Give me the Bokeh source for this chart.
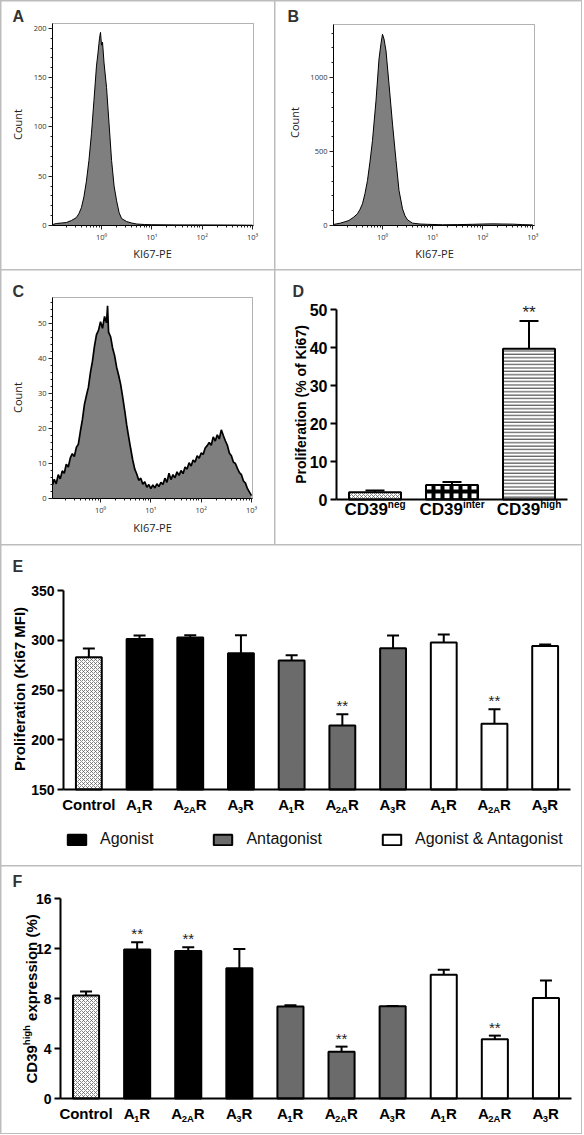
import math
from bokeh.plotting import figure
from bokeh.layouts import row, column
from bokeh.models import (Range1d, ColumnDataSource, LabelSet, Label, Whisker, TeeHead, Legend,
                          LegendItem, SingleIntervalTicker, LogTicker, FixedTicker, BoxAnnotation,
                          CustomJSTickFormatter)
from bokeh.core.properties import value
from bokeh.embed import file_html
from bokeh.resources import INLINE

# ---------------- DATA ----------------
hist_xlabel = "KI67-PE"
hist_ylabel = "Count"

# Panel A histogram: log10(KI67-PE) positions and counts
a_log = [-0.97, -0.9, -0.8, -0.7, -0.6, -0.5, -0.45, -0.4, -0.35, -0.3, -0.25, -0.2, -0.15, -0.1,
         -0.07, -0.04, -0.02, 0.0, 0.02, 0.05, 0.1, 0.15, 0.2, 0.25, 0.3, 0.35, 0.4, 0.5, 0.6, 0.7,
         0.85, 1.0, 1.5, 2.0, 2.5, 3.0]
a_count = [1, 2, 2.5, 3, 5, 8, 12, 18, 29, 45, 66, 93, 127, 162, 175, 190, 196, 183, 186, 165,
           140, 103, 66, 40, 25, 13, 7, 4, 2.5, 1.5, 1, 0.8, 0.6, 0.6, 0.5, 0.3]

# Panel B histogram
b_log = [-0.98, -0.85, -0.75, -0.67, -0.58, -0.5, -0.45, -0.4, -0.35, -0.3, -0.25, -0.2, -0.13,
         -0.07, -0.03, 0.0, 0.03, 0.07, 0.13, 0.2, 0.27, 0.33, 0.4, 0.45, 0.5, 0.6, 0.75, 0.9, 1.2,
         1.5, 1.8, 2.0, 2.2, 2.4, 2.6, 2.8, 3.0]
b_count = [7, 15, 25, 34, 55, 79, 108, 146, 215, 303, 430, 573, 843, 1124, 1230, 1292, 1260, 1180,
           955, 685, 438, 236, 112, 65, 38, 16, 10, 8, 5, 6, 8, 10, 11, 10, 9, 6, 4]

# Panel C histogram (bimodal)
c_log = [-0.95, -0.92, -0.88, -0.84, -0.8, -0.76, -0.72, -0.68, -0.64, -0.6, -0.56, -0.52, -0.48,
         -0.44, -0.4, -0.36, -0.32, -0.28, -0.24, -0.2, -0.16, -0.12, -0.08, -0.04, 0.0, 0.04, 0.08,
         0.12, 0.14, 0.16, 0.2, 0.24, 0.28, 0.32, 0.36, 0.4, 0.44, 0.48, 0.52, 0.56, 0.6, 0.64, 0.68,
         0.72, 0.76, 0.8, 0.84, 0.88, 0.92, 0.96, 1.0, 1.04, 1.08, 1.12, 1.16, 1.2, 1.24, 1.28, 1.32,
         1.36, 1.4, 1.44, 1.48, 1.52, 1.56, 1.6, 1.64, 1.68, 1.72, 1.76, 1.8, 1.84, 1.88, 1.92, 1.96,
         2.0, 2.04, 2.08, 2.12, 2.16, 2.2, 2.24, 2.28, 2.32, 2.36, 2.4, 2.44, 2.48, 2.52, 2.56, 2.6,
         2.64, 2.68, 2.72, 2.76, 2.8, 2.84, 2.88, 2.92, 2.96, 3.0]
c_count = [4.0, 5.5, 4.2, 6.8, 5.6, 7.9, 7.2, 9.8, 9.0, 11.6,
           12.8, 12.0, 14.6, 15.5, 19.2, 22.5, 26.8, 29.4, 31.8, 36.0,
           39.2, 43.5, 46.8, 48.0, 50.5, 48.6, 52.0, 50.2, 55.0, 47.5,
           46.2, 43.0, 40.8, 37.5, 35.2, 32.6, 29.0, 25.2, 21.0, 17.5,
           14.2, 11.0, 8.4, 7.0, 5.2, 5.8, 4.1, 4.8, 3.2, 4.0,
           2.8, 3.9, 3.0, 4.2, 3.4, 4.6, 4.0, 5.8, 4.6, 7.2,
           5.4, 6.8, 5.9, 7.6, 6.6, 8.0, 7.1, 9.0, 8.4, 10.2,
           9.3, 11.0, 10.4, 12.2, 11.5, 13.0, 12.6, 14.4, 15.1, 16.0,
           15.2, 17.6, 16.4, 18.2, 17.0, 19.6, 18.0, 16.5, 15.2, 13.0,
           12.2, 10.4, 10.0, 8.6, 7.4, 6.8, 5.0, 4.4, 2.8, 1.8,
           0.8]

# Panel D
d_main = "CD39"
d_sup = ["neg", "inter", "high"]
d_mean = [1.9, 3.8, 39.7]
d_err = [0.5, 0.8, 7.3]
d_sig = ["", "", "**"]
d_ylabel = "Proliferation (% of Ki67)"

# Panels E / F
treatments = ["Agonist", "Antagonist", "Agonist & Antagonist"]
receptor_sub = ["1", "2A", "3"]
e_mean = [283, 301.3, 302.7, 287, 279.7, 214.3, 292, 297.7, 216, 294.3]
e_err = [8.7, 3.4, 2.3, 18, 5.3, 11.4, 12.7, 8, 14.7, 1.4]
e_sig = ["", "", "", "", "", "**", "", "", "**", ""]
e_ylabel = "Proliferation (Ki67 MFI)"

f_mean = [8.24, 11.93, 11.8, 10.43, 7.36, 3.75, 7.38, 9.9, 4.74, 8.05]
f_err = [0.32, 0.57, 0.3, 1.53, 0.1, 0.4, 0.03, 0.4, 0.29, 1.39]
f_sig = ["", "**", "**", "", "", "**", "", "", "**", ""]
f_ylabel_parts = ["CD39", "high", "expression (%)"]

# ---------------- STYLE / GEOMETRY ----------------
ARIAL = "Liberation Sans"
SANS = "Open Sans"
GRAY_BAR = "#6b6b6b"
HIST_FILL = "#7f7f7f"
DIV = "#bdbdbd"

W1, W2 = 273, 306
WF = W1 + 1 + W2
H1, H2, H3, H4 = 268, 274, 320, 267

AW = {"A": .722, "R": .722, "C": .722, "D": .722, "o": .611, "n": .611, "t": .333, "r": .389,
      "l": .278, "1": .556, "2": .556, "3": .556, "9": .556, "e": .556, "g": .611, "i": .278,
      "h": .611, " ": .278}


def tw(s, size):
    return sum(AW.get(c, 0.6) for c in s) * size


LOG_FMT = CustomJSTickFormatter(code="""
const e = Math.round(Math.log10(tick));
const s = {0: '\u2070', 1: '\u00b9', 2: '\u00b2', 3: '\u00b3'};
return '10' + (s[e] !== undefined ? s[e] : '');
""")


def add_letter(p, txt, px, py, H):
    p.add_layout(Label(x=px, y=H - py + 3, x_units="screen", y_units="screen", text=txt,
                       text_font=ARIAL, text_font_style="bold", text_font_size="16px",
                       text_color="#333333", text_baseline="top", text_align="left"))


def hist_panel(W, H, box, loglim, ymax, yint, logs, counts, lw, letter, lpos, cpos, kpos):
    bl, bt, br, bb = box
    lo, hi = loglim
    dp = (br - bl) / (hi - lo)
    ppu = (bb - bt) / ymax
    xr = Range1d(10 ** (lo - bl / dp), 10 ** (hi + (W - br) / dp))
    yr = Range1d(-(H - bb) / ppu, ymax + bt / ppu)
    p = figure(width=W, height=H, x_axis_type="log", x_range=xr, y_range=yr,
               output_backend="svg", toolbar_location=None, min_border=0)
    p.grid.visible = False
    p.outline_line_color = None
    xs = [10 ** v for v in logs]
    p.varea(x=xs, y1=[0] * len(xs), y2=counts, fill_color=HIST_FILL)
    p.line(x=xs, y=counts, line_color="black", line_width=lw)
    p.add_layout(BoxAnnotation(left=10 ** lo, right=10 ** hi, bottom=0, top=ymax,
                               fill_alpha=0, line_color="black", line_width=1))
    xa, ya = p.xaxis[0], p.yaxis[0]
    xa.ticker = LogTicker(num_minor_ticks=10)
    xa.formatter = LOG_FMT
    xa.fixed_location = 0
    xa.bounds = (10 ** lo, 10 ** hi)
    ya.ticker = SingleIntervalTicker(interval=yint, num_minor_ticks=5)
    ya.fixed_location = 10 ** lo
    ya.bounds = (0, ymax)
    for ax in (xa, ya):
        ax.axis_line_color = "black"
        ax.major_tick_out = 4
        ax.major_tick_in = 0
        ax.minor_tick_out = 2
        ax.minor_tick_in = 0
        ax.major_tick_line_color = "#222"
        ax.minor_tick_line_color = "#222"
        ax.major_label_text_font = SANS
        ax.major_label_text_font_size = "7.5px"
        ax.major_label_text_color = "#333"
        ax.major_label_standoff = 2
    p.add_layout(Label(x=cpos[0], y=H - cpos[1], x_units="screen", y_units="screen",
                       angle=math.pi / 2, text=hist_ylabel, text_align="center",
                       text_baseline="middle", text_font=SANS, text_font_size="11px",
                       text_color="#222222"))
    p.add_layout(Label(x=kpos[0], y=H - kpos[1], x_units="screen", y_units="screen",
                       text=hist_xlabel, text_align="center", text_baseline="middle",
                       text_font=SANS, text_font_size="11px", text_color="#222222"))
    add_letter(p, letter, lpos[0], lpos[1], H)
    return p


def bar_fig(W, H, n, ax_x, ax_x_end, y0, y1, y0_px, y1_px, yint, tick_size):
    ppc = (ax_x_end - ax_x) / n
    ppu = (y0_px - y1_px) / (y1 - y0)
    xr = Range1d(-0.5 - ax_x / ppc, -0.5 + (W - ax_x) / ppc)
    yr = Range1d(y0 - (H - y0_px) / ppu, y1 + y1_px / ppu)
    p = figure(width=W, height=H, x_range=xr, y_range=yr, output_backend="svg",
               toolbar_location=None, min_border=0)
    p.grid.visible = False
    p.outline_line_color = None
    xa = p.xaxis[0]
    xa.fixed_location = y0
    xa.bounds = (-0.5, n - 0.5)
    xa.ticker = FixedTicker(ticks=[])
    xa.axis_line_width = 2
    xa.axis_line_color = "black"
    xa.major_tick_line_color = None
    xa.minor_tick_line_color = None
    ya = p.yaxis[0]
    ya.fixed_location = -0.5
    ya.bounds = (y0, y1)
    ya.ticker = SingleIntervalTicker(interval=yint, num_minor_ticks=0)
    ya.axis_line_width = 2
    ya.axis_line_color = "black"
    ya.major_tick_line_width = 2
    ya.major_tick_out = 6
    ya.major_tick_in = 0
    ya.minor_tick_line_color = None
    ya.major_label_text_font = ARIAL
    ya.major_label_text_font_style = "bold"
    ya.major_label_text_font_size = tick_size
    ya.major_label_text_color = "black"
    ya.major_label_standoff = 3
    return p


def add_errors(p, xs, means, errs, cap):
    src = ColumnDataSource(dict(x=xs, mean=means, top=[m + e for m, e in zip(means, errs)]))
    p.add_layout(Whisker(source=src, base="x", lower="mean", upper="top", line_color="black",
                         line_width=2, lower_head=None,
                         upper_head=TeeHead(size=cap, line_color="black", line_width=2)))


def add_sig(p, xs, means, errs, sigs, size):
    idx = [i for i, s in enumerate(sigs) if s]
    src = ColumnDataSource(dict(x=[xs[i] for i in idx], y=[means[i] + errs[i] for i in idx],
                                t=[sigs[i] for i in idx]))
    p.add_layout(LabelSet(source=src, x="x", y="y", text="t", y_offset=3,
                          text_align="center", text_baseline="alphabetic",
                          text_font=value(ARIAL), text_font_size=size, text_color="#222222"))


# ---------------- PANELS A, B, C ----------------
pA = hist_panel(W1, H1, (51, 22, 252, 224), (-0.974, 3.02), 205, 50, a_log, a_count, 1.0,
                "A", (11, 9), (16, 123), (151, 252))
pB = hist_panel(W2, H1, (58, 23, 259, 224), (-0.978, 3.034), 1358, 500, b_log, b_count, 1.0,
                "B", (12, 9), (19, 121), (159, 252))
pC = hist_panel(W1, H2, (51, 27, 251, 228), (-0.954, 3.02), 57.4, 10, c_log, c_count, 1.7,
                "C", (11, 15), (16, 127), (151, 257))

# ---------------- PANEL D ----------------
d_x = list(range(len(d_sup)))
pD = bar_fig(W2, H2, 3, 61, 292, 0, 50, 229, 39, 10, "16px")
pD.vbar(x=[d_x[0]], top=[d_mean[0]], width=0.675, fill_color="white", line_color="black",
        line_width=2, hatch_pattern="diagonal_cross", hatch_scale=4, hatch_weight=0.7,
        hatch_color="#555555")
pD.vbar(x=[d_x[1]], top=[d_mean[1]], width=0.675, fill_color="white", line_color="black",
        line_width=2, hatch_pattern="cross", hatch_scale=9, hatch_weight=4, hatch_color="black")
pD.vbar(x=[d_x[2]], top=[d_mean[2]], width=0.675, fill_color="white", line_color="black",
        line_width=2, hatch_pattern="horizontal_line", hatch_scale=3.4, hatch_weight=1,
        hatch_color="#333333")
add_errors(pD, d_x, d_mean, d_err, 19)
add_sig(pD, d_x, d_mean, d_err, d_sig, "17px")
wm = tw(d_main, 17)
d_xo_main = [-(wm + tw(s, 10)) / 2 for s in d_sup]
d_src = ColumnDataSource(dict(x=d_x, y=[0] * 3, main=[d_main] * 3, sup=d_sup,
                              xm=d_xo_main, xs=[v + wm for v in d_xo_main]))
pD.add_layout(LabelSet(source=d_src, x="x", y="y", text="main", x_offset="xm", y_offset=-15,
                       text_align="left", text_baseline="alphabetic", text_font=value(ARIAL),
                       text_font_style="bold", text_font_size="17px", text_color="black"))
pD.add_layout(LabelSet(source=d_src, x="x", y="y", text="sup", x_offset="xs", y_offset=-8,
                       text_align="left", text_baseline="alphabetic", text_font=value(ARIAL),
                       text_font_style="bold", text_font_size="10px", text_color="black"))
pD.add_layout(Label(x=25, y=25, x_units="screen", y_units="data", angle=math.pi / 2,
                    text=d_ylabel, text_align="center", text_baseline="middle", text_font=ARIAL,
                    text_font_style="bold", text_font_size="14px", text_color="black"))
add_letter(pD, "D", 17, 15, H2)

# ---------------- PANELS E / F ----------------
n_cat = 1 + len(treatments) * len(receptor_sub)
cat_x = list(range(n_cat))
groups = [[1, 2, 3], [4, 5, 6], [7, 8, 9]]
group_fill = ["black", GRAY_BAR, "white"]


def receptor_labels(p, base, main_size=15, sub_size=9.5):
    mains = ["Control"] + ["A"] * 9
    subs = [""] + receptor_sub * 3
    tails = [""] + ["R"] * 9
    xm, xs, xt = [], [], []
    for m, s, t in zip(mains, subs, tails):
        w_m, w_s, w_t = tw(m, main_size), tw(s, sub_size), tw(t, main_size)
        start = -(w_m + w_s + w_t) / 2
        xm.append(start)
        xs.append(start + w_m - 0.5)
        xt.append(start + w_m + w_s - 0.5)
    src = ColumnDataSource(dict(x=cat_x, y=[base] * n_cat, m=mains, s=subs, t=tails,
                                xm=xm, xs=xs, xt=xt))
    common = dict(source=src, x="x", y="y", text_align="left", text_baseline="alphabetic",
                  text_font=value(ARIAL), text_font_style="bold", text_color="black")
    p.add_layout(LabelSet(text="m", x_offset="xm", y_offset=-20,
                          text_font_size=f"{main_size}px", **common))
    p.add_layout(LabelSet(text="s", x_offset="xs", y_offset=-23.5,
                          text_font_size=f"{sub_size}px", **common))
    p.add_layout(LabelSet(text="t", x_offset="xt", y_offset=-20,
                          text_font_size=f"{main_size}px", **common))


def condition_bars(p, means, base):
    p.vbar(x=[cat_x[0]], top=[means[0]], bottom=base, width=0.51, fill_color="white",
           line_color="black", line_width=2, hatch_pattern="diagonal_cross", hatch_scale=4,
           hatch_weight=0.7, hatch_color="#555555")
    rs = []
    for idx, col in zip(groups, group_fill):
        rs.append(p.vbar(x=[cat_x[i] for i in idx], top=[means[i] for i in idx], bottom=base,
                         width=0.51, fill_color=col, line_color="black", line_width=2))
    return rs


# E
pE = bar_fig(WF, H3, n_cat, 62, 569, 150, 350, 244, 45, 50, "14px")
e_rs = condition_bars(pE, e_mean, 150)
add_errors(pE, cat_x, e_mean, e_err, 12)
add_sig(pE, cat_x, e_mean, e_err, e_sig, "15px")
receptor_labels(pE, 150)
pE.add_layout(Label(x=17.5, y=251, x_units="screen", y_units="data", angle=math.pi / 2,
                    text=e_ylabel, text_align="center", text_baseline="middle", text_font=ARIAL,
                    text_font_style="bold", text_font_size="15px", text_color="black"))
legend = Legend(items=[LegendItem(label=t, renderers=[r]) for t, r in zip(treatments, e_rs)],
                orientation="horizontal", location=(64, 17), glyph_width=23, glyph_height=13,
                label_height=13, label_standoff=12, spacing=58, padding=0, margin=0,
                label_text_font=ARIAL, label_text_font_size="16px", label_text_color="#111111",
                border_line_color=None, background_fill_alpha=0)
pE.add_layout(legend)
add_letter(pE, "E", 11, 15, H3)

# F
pF = bar_fig(WF, H4, n_cat, 59, 570, 0, 16, 232, 32, 4, "14px")
condition_bars(pF, f_mean, 0)
add_errors(pF, cat_x, f_mean, f_err, 12)
add_sig(pF, cat_x, f_mean, f_err, f_sig, "15px")
receptor_labels(pF, 0)
yo = 15
for txt, size, xb in zip(f_ylabel_parts, [15, 9.5, 15], [30, 25, 30]):
    pF.add_layout(Label(x=xb, y=0, x_units="screen", y_units="data", y_offset=yo,
                        angle=math.pi / 2, text=txt, text_align="left",
                        text_baseline="alphabetic", text_font=ARIAL, text_font_style="bold",
                        text_font_size=f"{size}px", text_color="black"))
    yo += tw(txt, size) + (tw(" ", 15) if size == 9.5 else 0)
add_letter(pF, "F", 11, 9, H4)

# ---------------- LAYOUT ----------------
layout = column(row(pA, pB, spacing=1), row(pC, pD, spacing=1), pE, pF, spacing=1,
                styles={"background-color": DIV, "padding": "1px"})

with open("out.html", "w", encoding="utf-8") as fh:
    fh.write(file_html(layout, INLINE))
